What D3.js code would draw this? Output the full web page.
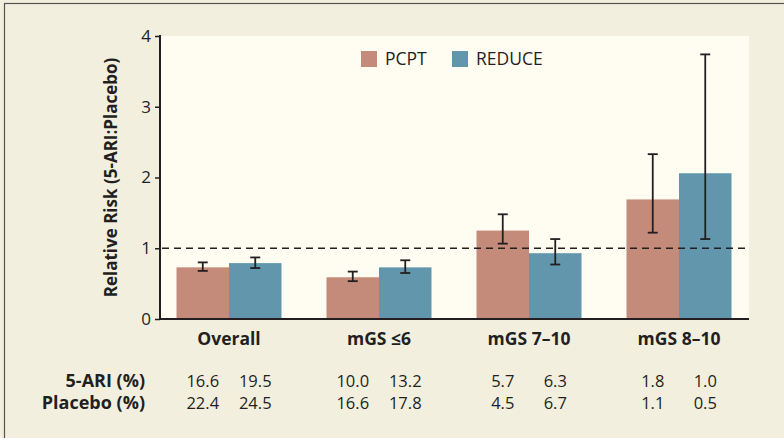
<!DOCTYPE html>
<html><head><meta charset="utf-8">
<script src="https://cdn.jsdelivr.net/npm/d3@7"></script>
<style>
html,body{margin:0;padding:0;background:#f2efdf;}
svg{display:block;font-family:"Open Sans",sans-serif;}
</style></head>
<body>
<svg id="chart" width="784" height="438"></svg>
<script>
const categories = ["Overall", "mGS \u22646", "mGS 7\u201310", "mGS 8\u201310"];
const seriesNames = ["PCPT", "REDUCE"];
const pcptRR = [0.73, 0.59, 1.25, 1.69];
const pcptLo = [0.68, 0.535, 1.065, 1.22];
const pcptHi = [0.80, 0.67, 1.48, 2.33];
const reduceRR = [0.79, 0.73, 0.93, 2.06];
const reduceLo = [0.72, 0.65, 0.77, 1.13];
const reduceHi = [0.87, 0.83, 1.13, 3.74];
const ariPCPT = [16.6, 10.0, 5.7, 1.8];
const ariREDUCE = [19.5, 13.2, 6.3, 1.0];
const placeboPCPT = [22.4, 16.6, 4.5, 1.1];
const placeboREDUCE = [24.5, 17.8, 6.7, 0.5];
const yTicks = [0, 1, 2, 3, 4];
const tableRowLabels = ["5-ARI (%)", "Placebo (%)"];
const yLabel = "Relative Risk (5-ARI:Placebo)";

const colors = {PCPT: "#c48b7a", REDUCE: "#6196ac"};
const ink = "#231f20";

const svg = d3.select("#chart");
// outer frame
svg.append("rect").attr("x", 4.5).attr("y", 3.5).attr("width", 820).attr("height", 500)
  .attr("fill", "#f2efdf").attr("stroke", "#555").attr("stroke-width", 1.2);

const plotL = 160, plotR = 749, plotT = 36, plotB = 319;
const y = d3.scaleLinear().domain([0, 4]).range([plotB, plotT]);
const x0 = d3.scaleBand().domain(categories).range([154, 754]).paddingInner(0.3).paddingOuter(0.15);
const x1 = d3.scaleBand().domain(seriesNames).range([0, x0.bandwidth()]);

svg.append("rect").attr("x", plotL).attr("y", plotT).attr("width", plotR - plotL).attr("height", plotB - plotT)
  .attr("fill", "#fffdf2");

const data = categories.map((c, i) => ({
  cat: c,
  vals: [
    {s: "PCPT", v: pcptRR[i], lo: pcptLo[i], hi: pcptHi[i], ari: ariPCPT[i], pl: placeboPCPT[i]},
    {s: "REDUCE", v: reduceRR[i], lo: reduceLo[i], hi: reduceHi[i], ari: ariREDUCE[i], pl: placeboREDUCE[i]}
  ]
}));

const g = svg.selectAll("g.grp").data(data).enter().append("g")
  .attr("transform", d => `translate(${x0(d.cat)},0)`);
g.selectAll("rect").data(d => d.vals).enter().append("rect")
  .attr("x", d => x1(d.s)).attr("width", x1.bandwidth())
  .attr("y", d => y(d.v)).attr("height", d => y(0) - y(d.v))
  .attr("fill", d => colors[d.s]);

// reference line
svg.append("line").attr("x1", plotL + 2).attr("x2", plotR).attr("y1", y(1)).attr("y2", y(1))
  .attr("stroke", ink).attr("stroke-width", 1.6).attr("stroke-dasharray", "7,5");

// error bars
const eb = g.selectAll("g.eb").data(d => d.vals).enter().append("g")
  .attr("transform", d => `translate(${x1(d.s) + x1.bandwidth() / 2},0)`);
eb.append("line").attr("x1", 0).attr("x2", 0).attr("y1", d => y(d.lo)).attr("y2", d => y(d.hi))
  .attr("stroke", ink).attr("stroke-width", 1.8);
eb.append("line").attr("x1", -5).attr("x2", 5).attr("y1", d => y(d.lo)).attr("y2", d => y(d.lo))
  .attr("stroke", ink).attr("stroke-width", 1.8);
eb.append("line").attr("x1", -5).attr("x2", 5).attr("y1", d => y(d.hi)).attr("y2", d => y(d.hi))
  .attr("stroke", ink).attr("stroke-width", 1.8);

// axes
const yAxis = svg.append("g").attr("transform", `translate(${plotL},0)`)
  .call(d3.axisLeft(y).tickValues(yTicks).tickFormat(d3.format("d")).tickSize(5).tickPadding(4));
yAxis.select(".domain").remove();
yAxis.selectAll(".tick line").attr("stroke", ink).attr("stroke-width", 1.5);
yAxis.selectAll("text").attr("fill", ink).attr("font-size", 17).attr("font-family", "Open Sans");
svg.append("line").attr("x1", plotL).attr("x2", plotL).attr("y1", plotT - 1).attr("y2", plotB + 1)
  .attr("stroke", ink).attr("stroke-width", 2);
svg.append("line").attr("x1", plotL).attr("x2", plotR).attr("y1", plotB).attr("y2", plotB)
  .attr("stroke", ink).attr("stroke-width", 2);

// category labels
svg.selectAll("text.cat").data(categories).enter().append("text")
  .attr("x", d => x0(d) + x0.bandwidth() / 2).attr("y", 345)
  .attr("text-anchor", "middle").attr("font-weight", "bold").attr("font-size", 17.5)
  .attr("fill", ink).text(d => d);

// y label
svg.append("text").attr("transform", `translate(117,${(plotT + plotB) / 2}) rotate(-90)`)
  .attr("text-anchor", "middle").attr("font-weight", "bold").attr("font-size", 17)
  .attr("fill", ink).text(yLabel);

// legend
const leg = svg.append("g");
const legX = [361, 452];
seriesNames.forEach((s, i) => {
  leg.append("rect").attr("x", legX[i]).attr("y", 51).attr("width", 16).attr("height", 16).attr("fill", colors[s]);
  leg.append("text").attr("x", legX[i] + 24).attr("y", 65).attr("font-size", 17.5).attr("fill", ink).text(s);
});

// table
const rowY = [387, 409];
tableRowLabels.forEach((t, r) => {
  svg.append("text").attr("x", 145).attr("y", rowY[r]).attr("text-anchor", "end")
    .attr("font-weight", "bold").attr("font-size", 18).attr("fill", ink).text(t);
});
const fmt = d3.format(".1f");
g.selectAll("text.ari").data(d => d.vals).enter().append("text")
  .attr("x", d => x1(d.s) + x1.bandwidth() / 2).attr("y", rowY[0])
  .attr("text-anchor", "middle").attr("font-size", 16.5).attr("fill", ink).text(d => fmt(d.ari));
g.selectAll("text.pl").data(d => d.vals).enter().append("text")
  .attr("x", d => x1(d.s) + x1.bandwidth() / 2).attr("y", rowY[1])
  .attr("text-anchor", "middle").attr("font-size", 16.5).attr("fill", ink).text(d => fmt(d.pl));
</script>
</body></html>
